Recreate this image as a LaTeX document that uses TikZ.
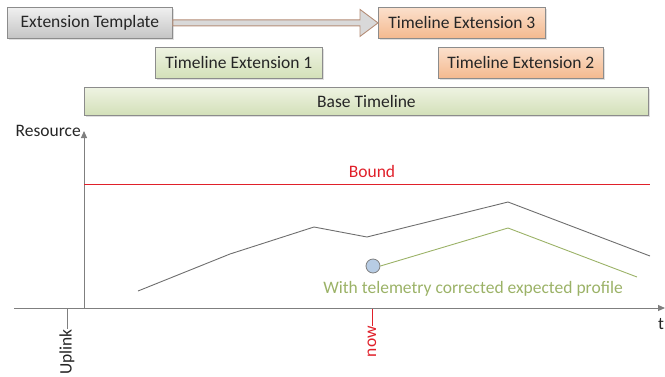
\documentclass[tikz,border=0pt]{standalone}
\usepackage{fontspec}
\setmainfont{Carlito}
\usetikzlibrary{arrows.meta,shadows}
\definecolor{grayTop}{HTML}{F0F0F0}
\definecolor{grayBot}{HTML}{C4C4C4}
\definecolor{greenTop}{HTML}{EEF3E2}
\definecolor{greenBot}{HTML}{D3E0B8}
\definecolor{orangeTop}{HTML}{FBE0CC}
\definecolor{orangeBot}{HTML}{F4B98E}
\definecolor{boxEdge}{HTML}{8C8C8C}
\definecolor{axisGray}{HTML}{7F7F7F}
\definecolor{boundRed}{HTML}{E0202A}
\definecolor{profGreen}{HTML}{9BB267}
\definecolor{profGray}{HTML}{6E6E6E}
\definecolor{arrowEdge}{HTML}{B58E78}
\definecolor{arrowFill}{HTML}{D9D9D9}
\definecolor{dotFill}{HTML}{B7CCE4}
\tikzset{
  box/.style={draw=boxEdge, line width=0.8pt, anchor=north west, inner sep=0pt,
    font=\fontsize{17.5}{19}\selectfont, text=black!85,
    drop shadow={opacity=0.25, shadow xshift=1.2pt, shadow yshift=-1.2pt}},
  graybox/.style={box, top color=grayTop, bottom color=grayBot},
  greenbox/.style={box, top color=greenTop, bottom color=greenBot},
  orangebox/.style={box, top color=orangeTop, bottom color=orangeBot},
  axis/.style={draw=axisGray, line width=1pt},
  lbl/.style={font=\fontsize{17.5}{19}\selectfont, inner sep=0pt},
}
\begin{document}
\begin{tikzpicture}[x=1pt,y=-1pt]
\useasboundingbox (0,0) rectangle (665,376);
% boxes
\node[graybox, minimum width=165pt, minimum height=31pt] (tmpl) at (7,7) {Extension Template};
\node[orangebox, minimum width=167pt, minimum height=31pt] (ext3) at (378,7) {Timeline Extension 3};
\node[greenbox, minimum width=167pt, minimum height=31pt] (ext1) at (155,47) {Timeline Extension 1};
\node[orangebox, minimum width=165pt, minimum height=31pt] (ext2) at (438,47) {Timeline Extension 2};
\node[greenbox, minimum width=564pt, minimum height=28pt] (base) at (84,87) {Base Timeline};
% block arrow template -> ext3
\coordinate (aS) at (tmpl.east);
\coordinate (aE) at (ext3.west);
\filldraw[draw=arrowEdge, fill=arrowFill, line width=0.9pt, line join=miter]
  ([yshift=-3pt]aS) -- ([xshift=-18pt,yshift=-3pt]aE) -- ([xshift=-18pt,yshift=-13.5pt]aE)
  -- (aE) -- ([xshift=-18pt,yshift=13.5pt]aE) -- ([xshift=-18pt,yshift=3pt]aE)
  -- ([yshift=3pt]aS) -- cycle;
% axes
\coordinate (origin) at (84,308);
\coordinate (ytop) at (84,131);
\coordinate (xleft) at (14,308);
\coordinate (xright) at (665,308);
\draw[axis, -{Triangle[length=7pt,width=6pt]}] (origin) -- (ytop);
\draw[axis, -{Triangle[length=7pt,width=6pt]}] (xleft) -- (xright);
\node[lbl, anchor=south east, text=black!85] (res) at (81,137) {Resource};
\node[lbl, text=black!85] (tlab) at (661,324) {t};
% ticks
\coordinate (upA) at (67,308);
\coordinate (upB) at (67,329);
\draw[axisGray, line width=0.8pt] (upA) -- (upB);
\node[lbl, rotate=90, anchor=east, text=black!85] (uplink) at (upB) {Uplink};
\coordinate (nowA) at (372,309);
\coordinate (nowB) at (372,326);
\draw[boundRed, line width=0.8pt] (nowA) -- (nowB);
\node[lbl, rotate=90, anchor=east, text=boundRed] (now) at (nowB) {now};
% bound
\coordinate (bL) at (84,184);
\coordinate (bR) at (650,184);
\draw[boundRed, line width=1pt] (bL) -- (bR);
\node[lbl, text=boundRed] (bound) at (372,171) {Bound};
% expected profile
\coordinate (p1) at (138,291);
\coordinate (p2) at (230,254);
\coordinate (p3) at (314,227);
\coordinate (p4) at (367,237);
\coordinate (p5) at (508,202);
\coordinate (p6) at (650,256);
\draw[profGray, line width=0.9pt] (p1) -- (p2) -- (p3) -- (p4) -- (p5) -- (p6);
% corrected profile
\node[circle, draw=axisGray, fill=dotFill, line width=0.8pt, minimum size=14pt, inner sep=0pt] (dot) at (373,266) {};
\coordinate (g2) at (508,228);
\coordinate (g3) at (637,277);
\draw[profGreen, line width=0.9pt] (dot.east) -- (g2) -- (g3);
\node[lbl, text=profGreen] (corr) at (473,289) {With telemetry corrected expected profile};
\end{tikzpicture}
\end{document}
